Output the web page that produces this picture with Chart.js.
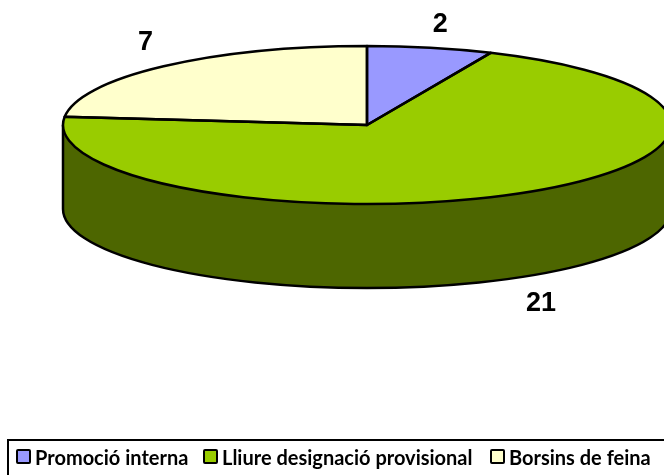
<!DOCTYPE html>
<html>
<head>
<meta charset="utf-8">
<script src="https://cdn.jsdelivr.net/npm/chart.js@4"></script>
<style>
    body { margin: 0; background: #fff; }
    #wrap { position: relative; width: 664px; height: 475px; overflow: hidden; }
    /* the box runs off the picture at the right and at the bottom */
    #legend {
        position: absolute; left: 7px; top: 439px; width: 700px; height: 60px;
        border: 2px solid #000; box-sizing: content-box;
        font: bold 20px Lato, sans-serif; color: #000;
    }
    .item { position: absolute; top: 4px; white-space: nowrap; line-height: 22px; }
    .item i {
        position: absolute; left: 0; top: 4px; width: 11px; height: 11px;
        border: 2px solid #000; border-radius: 2px;
    }
    .item span { position: absolute; left: 19px; top: 1px; }
</style>
</head>
<body>
<div id="wrap">
    <canvas id="pie" width="664" height="475"></canvas>
    <div id="legend"></div>
</div>
<script>
const categories = ['Promoció interna', 'Lliure designació provisional', 'Borsins de feina'];
const values = [2, 21, 7];
const sliceColors = ['#9999ff', '#99cc00', '#ffffcc'];
const wallColors = ['#4d4d80', '#4d6600', '#808066'];

// look of the tilted pie
const squash = 79 / 304;
const depth = 84;
const labelShift = [[10, -23], [22, 110], [-18, -24]];
const legendLeft = [7, 194, 481];

const tiltPlugin = {
    id: 'tilt',
    beforeDatasetsDraw(chart) {
        const arcs = chart.getDatasetMeta(0).data;
        const ctx = chart.ctx;
        const { x, y, outerRadius: r } = arcs[0];
        // side wall, only the front half can be seen
        arcs.forEach((arc, i) => {
            const a = Math.max(arc.startAngle, 0);
            const b = Math.min(arc.endAngle, Math.PI);
            if (b <= a) return;
            ctx.beginPath();
            ctx.ellipse(x, y, r, r * squash, 0, a, b);
            ctx.ellipse(x, y + depth, r, r * squash, 0, b, a, true);
            ctx.closePath();
            ctx.fillStyle = wallColors[i];
            ctx.fill();
        });
        ctx.beginPath();
        ctx.moveTo(x + r, y);
        ctx.lineTo(x + r, y + depth);
        ctx.ellipse(x, y + depth, r, r * squash, 0, 0, Math.PI);
        ctx.lineTo(x - r, y);
        ctx.strokeStyle = '#000';
        ctx.lineWidth = 2.5;
        ctx.stroke();
        // flatten the slices the library draws
        ctx.save();
        ctx.translate(x, y);
        ctx.scale(1, squash);
        ctx.translate(-x, -y);
    },
    afterDatasetsDraw(chart) {
        const ctx = chart.ctx;
        ctx.restore();
        chart.getDatasetMeta(0).data.forEach((arc, i) => {
            const ry = arc.outerRadius * squash;
            ctx.beginPath();
            ctx.moveTo(arc.x, arc.y);
            ctx.ellipse(arc.x, arc.y, arc.outerRadius, ry, 0, arc.startAngle, arc.endAngle);
            ctx.closePath();
            ctx.strokeStyle = '#000';
            ctx.lineWidth = 2.5;
            ctx.lineJoin = 'round';
            ctx.stroke();

            const mid = (arc.startAngle + arc.endAngle) / 2;
            ctx.fillStyle = '#000';
            ctx.font = 'bold 27px "Liberation Sans", Arial, sans-serif';
            ctx.textAlign = 'center';
            ctx.textBaseline = 'middle';
            ctx.fillText(values[i],
                arc.x + Math.cos(mid) * arc.outerRadius + labelShift[i][0],
                arc.y + Math.sin(mid) * ry + labelShift[i][1]);
        });
    }
};

new Chart(document.getElementById('pie').getContext('2d'), {
    type: 'pie',
    data: {
        labels: categories,
        datasets: [{
            data: values,
            backgroundColor: sliceColors,
            borderWidth: 0,
            clip: false
        }]
    },
    options: {
        responsive: false,
        animation: false,
        radius: 304,
        layout: { padding: { left: 70, bottom: 225 } },
        plugins: {
            legend: { display: false },
            tooltip: { enabled: false }
        }
    },
    plugins: [tiltPlugin]
});

// legend box under the chart
const legend = document.getElementById('legend');
categories.forEach((name, i) => {
    const item = document.createElement('div');
    item.className = 'item';
    item.style.left = legendLeft[i] + 'px';
    item.innerHTML = `<i style="background:${sliceColors[i]}"></i><span>${name}</span>`;
    legend.appendChild(item);
});
</script>
</body>
</html>
